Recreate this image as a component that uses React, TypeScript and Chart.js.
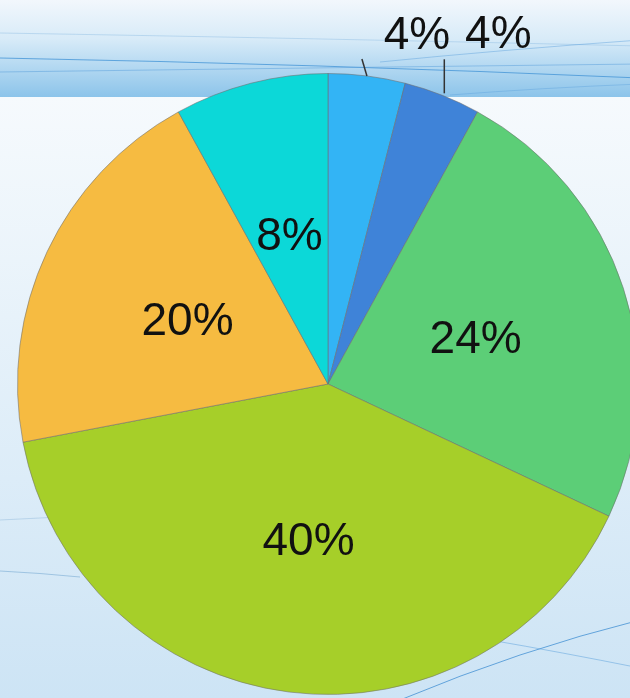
import React, { useEffect, useRef } from "react";
import { Chart, registerables } from "chart.js";

Chart.register(...registerables);

const categories = ["A", "B", "C", "D", "E", "F"];
const shares = [4, 4, 24, 40, 20, 8];
const sliceColors = ["#33b4f5", "#3f83d8", "#5cce77", "#a6cf29", "#f6bb41", "#0cd8d8"];
const percentLabels = ["4%", "4%", "24%", "40%", "20%", "8%"];

const CW = 660;
const CH = 720;

const backgroundPlugin = {
  id: "bgPlugin",
  beforeDraw(chart: any) {
    const ctx = chart.ctx;
    ctx.save();
    const g2 = ctx.createLinearGradient(0, 97, 0, 698);
    g2.addColorStop(0, "#f6fafd");
    g2.addColorStop(1, "#cde4f5");
    ctx.fillStyle = g2;
    ctx.fillRect(0, 0, CW, CH);
    const g1 = ctx.createLinearGradient(0, 0, 0, 97);
    g1.addColorStop(0, "#f2f7fc");
    g1.addColorStop(0.4, "#d8ebf8");
    g1.addColorStop(1, "#8cc4ea");
    ctx.fillStyle = g1;
    ctx.fillRect(0, 0, CW, 97);
    const line = (pts: number[], color: string, w: number) => {
      ctx.beginPath();
      ctx.moveTo(pts[0], pts[1]);
      ctx.quadraticCurveTo(pts[2], pts[3], pts[4], pts[5]);
      ctx.strokeStyle = color;
      ctx.lineWidth = w;
      ctx.stroke();
    };
    line([0, 58, 320, 64, 640, 78], "rgba(70,150,215,0.8)", 1);
    line([0, 72, 300, 68, 640, 64], "rgba(90,160,220,0.5)", 1);
    line([0, 33, 300, 38, 640, 46], "rgba(120,175,220,0.35)", 1);
    line([380, 62, 500, 50, 640, 40], "rgba(90,160,220,0.45)", 1);
    line([450, 95, 540, 88, 640, 84], "rgba(90,160,220,0.4)", 1);
    line([400, 700, 520, 650, 640, 620], "rgba(60,140,210,0.75)", 1);
    line([490, 640, 560, 652, 640, 668], "rgba(90,160,220,0.5)", 1);
    line([0, 520, 40, 518, 80, 516], "rgba(120,170,210,0.35)", 1);
    line([0, 571, 40, 573, 80, 577], "rgba(90,150,200,0.45)", 1);
    ctx.restore();
  },
};

const labelPlugin = {
  id: "labelPlugin",
  afterDatasetsDraw(chart: any) {
    const ctx = chart.ctx;
    const meta = chart.getDatasetMeta(0);
    ctx.save();
    ctx.textAlign = "center";
    ctx.textBaseline = "middle";
    ctx.fillStyle = "#111";
    ctx.font = "46px 'Liberation Sans', Arial, sans-serif";
    let smallIdx = 0;
    meta.data.forEach((arc: any, i: number) => {
      const p = arc.getProps(["x", "y", "startAngle", "endAngle", "outerRadius"], true);
      const mid = (p.startAngle + p.endAngle) / 2;
      const text = percentLabels[i];
      if (shares[i] >= 5) {
        const r = p.outerRadius * 0.5;
        ctx.fillText(text, p.x + Math.cos(mid) * r, p.y + Math.sin(mid) * r + 4);
      } else {
        const ex = p.x + Math.cos(mid) * p.outerRadius;
        const ey = p.y + Math.sin(mid) * p.outerRadius;
        ctx.strokeStyle = "#333";
        ctx.lineWidth = 1.5;
        ctx.beginPath();
        if (smallIdx === 0) {
          ctx.moveTo(ex, ey);
          ctx.lineTo(ex - 5, ey - 17);
          ctx.stroke();
          ctx.fillText(text, ex + 50, ey - 40);
        } else {
          ctx.moveTo(ex + 2, ey - 2);
          ctx.lineTo(ex + 2, ey - 36);
          ctx.stroke();
          ctx.fillText(text, ex + 56, ey - 60);
        }
        smallIdx++;
      }
    });
    ctx.restore();
  },
};

export default function App() {
  const ref = useRef<HTMLCanvasElement>(null);
  useEffect(() => {
    if (!ref.current) return;
    const chart = new Chart(ref.current, {
      type: "pie",
      data: {
        labels: categories,
        datasets: [
          {
            data: shares,
            backgroundColor: sliceColors,
            borderColor: "rgba(110,110,110,0.55)",
            borderWidth: 1,
          },
        ],
      },
      options: {
        animation: false,
        responsive: false,
        layout: { padding: { left: 17, top: 73, right: CW - 17 - 622, bottom: CH - 73 - 622 } },
        plugins: {
          legend: { display: false },
          tooltip: { enabled: false },
        },
      },
      plugins: [backgroundPlugin, labelPlugin],
    });
    return () => chart.destroy();
  }, []);
  return (
    <div
      style={{
        position: "fixed",
        left: 0,
        top: 0,
        width: 630,
        height: 698,
        overflow: "hidden",
      }}
    >
      <canvas ref={ref} width={CW} height={CH} style={{ display: "block", width: CW, height: CH }} />
    </div>
  );
}
